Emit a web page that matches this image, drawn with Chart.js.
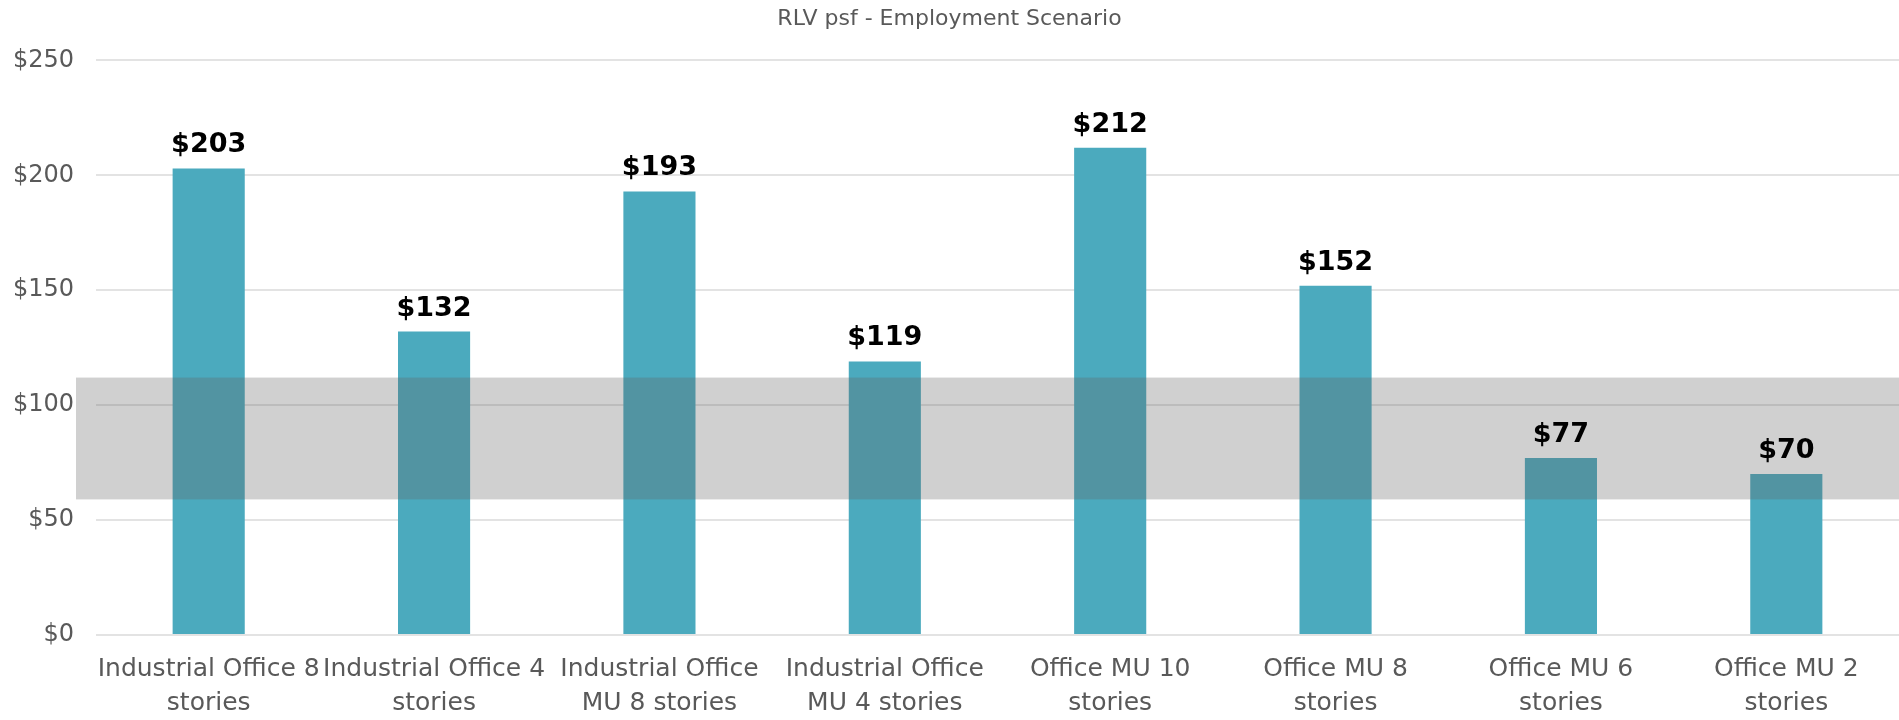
<!DOCTYPE html>
<html>
<head>
<meta charset="utf-8">
<script src="https://cdn.jsdelivr.net/npm/chart.js@4"></script>
<style>
    html, body { margin: 0; padding: 0; background: #fff; }
    #wrap { width: 1899px; height: 720px; }
</style>
</head>
<body>
<div id="wrap"><canvas id="rlvChart"></canvas></div>
<script>
const categories = [
    ["Industrial Office 8", "stories"],
    ["Industrial Office 4", "stories"],
    ["Industrial Office", "MU 8 stories"],
    ["Industrial Office", "MU 4 stories"],
    ["Office MU 10", "stories"],
    ["Office MU 8", "stories"],
    ["Office MU 6", "stories"],
    ["Office MU 2", "stories"]
];
const rlvValues = [203, 132, 193, 119, 212, 152, 77, 70];
const bandRange = [59, 112];
const yTicks = [0, 50, 100, 150, 200, 250];

const FONT = "'DejaVu Sans', 'Open Sans', sans-serif";

//..grey band + value labels on top of the bars
const overlayPlugin = {
    id: 'overlay',
    afterDatasetsDraw(chart) {
        const ctx = chart.ctx;
        const y = chart.scales.y;
        const top = y.getPixelForValue(bandRange[1]);
        const bottom = y.getPixelForValue(bandRange[0]);
        ctx.save();
        ctx.fillStyle = 'rgba(98, 98, 98, 0.3)';
        ctx.fillRect(76, top, chart.width - 76, bottom - top);

        ctx.fillStyle = '#000';
        ctx.font = `bold 27px ${FONT}`;
        ctx.textAlign = 'center';
        ctx.textBaseline = 'alphabetic';
        chart.getDatasetMeta(0).data.forEach((bar, i) => {
            ctx.fillText('$' + rlvValues[i], bar.x, bar.y - 16);
        });
        ctx.restore();
    }
};

new Chart(document.getElementById('rlvChart'), {
    type: 'bar',
    data: {
        labels: categories,
        datasets: [{
            data: rlvValues,
            backgroundColor: '#4BAABE',
            barPercentage: 0.32,
            categoryPercentage: 1
        }]
    },
    options: {
        responsive: true,
        maintainAspectRatio: false,
        animation: false,
        layout: { padding: 0 },
        plugins: {
            legend: { display: false },
            tooltip: { enabled: false },
            title: {
                display: true,
                text: 'RLV psf - Employment Scenario',
                color: '#595959',
                font: { family: FONT, size: 22, weight: 'normal' },
                padding: { top: 6, bottom: 28 }
            }
        },
        scales: {
            x: {
                grid: { display: false, drawTicks: false },
                border: { display: false },
                ticks: {
                    color: '#595959',
                    font: { family: FONT, size: 25, lineHeight: 1.35 },
                    padding: 18,
                    maxRotation: 0,
                    autoSkip: false
                },
                afterFit(scale) { scale.height = 85; }
            },
            y: {
                min: 0,
                max: 250,
                afterBuildTicks(scale) {
                    scale.ticks = yTicks.map(v => ({ value: v }));
                },
                grid: { color: '#e3e3e3', lineWidth: 2, drawTicks: false },
                border: { display: false },
                ticks: {
                    color: '#595959',
                    font: { family: FONT, size: 24 },
                    padding: 22,
                    callback: v => '$' + v
                },
                afterFit(scale) { scale.width = 96; }
            }
        }
    },
    plugins: [overlayPlugin]
});
</script>
</body>
</html>
